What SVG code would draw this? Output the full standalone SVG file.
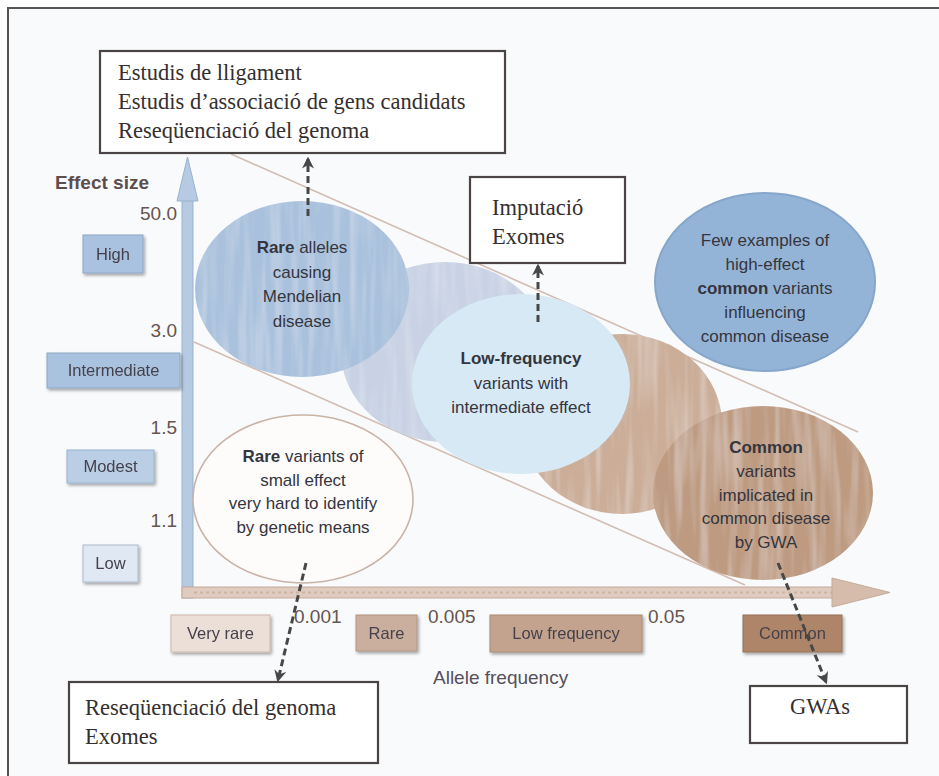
<svg xmlns="http://www.w3.org/2000/svg" width="939" height="776" viewBox="0 0 939 776">
  <defs>
    <style>
      .serif { font-family: "Liberation Serif", "DejaVu Serif", serif; font-size: 22.5px; fill: #352f2f; }
      .sans { font-family: "Liberation Sans", Arial, sans-serif; }
      .bubble { font-family: "Liberation Sans", Arial, sans-serif; font-size: 17px; fill: #35353d; text-anchor: middle; }
      .bubble .b { font-weight: bold; }
      .num { font-family: "Liberation Sans", Arial, sans-serif; font-size: 19px; fill: #66544f; }
      .tag { font-family: "Liberation Sans", Arial, sans-serif; font-size: 16.5px; fill: #45414b; text-anchor: middle; }
      .note { fill: #ffffff; stroke: #4a4444; stroke-width: 2.2; }
      .dash { fill: none; stroke: #474747; stroke-width: 3; stroke-dasharray: 7 4; marker-end: url(#head); }
      .guide { fill: none; stroke: #d3bdb2; stroke-width: 1.6; }
    </style>
    <marker id="head" viewBox="0 0 10 10" refX="8" refY="5" markerWidth="4" markerHeight="4" orient="auto" markerUnits="strokeWidth">
      <path d="M0,0 L10,5 L0,10 L3,5 z" fill="#474747"/>
    </marker>
    <filter id="shadow" x="-20%" y="-20%" width="150%" height="160%">
      <feDropShadow dx="1.5" dy="2" stdDeviation="1.5" flood-color="#000" flood-opacity="0.35"/>
    </filter>
    <filter id="grain" x="0" y="0" width="1" height="1">
      <feTurbulence type="fractalNoise" baseFrequency="0.12 0.01" numOctaves="2" seed="4" result="noise"/>
      <feColorMatrix in="noise" type="matrix" values="0 0 0 0 1  0 0 0 0 1  0 0 0 0 1  0 0 0 0.55 -0.22" result="light"/>
      <feComposite in="light" in2="SourceGraphic" operator="in" result="streaks"/>
      <feMerge>
        <feMergeNode in="SourceGraphic"/>
        <feMergeNode in="streaks"/>
      </feMerge>
    </filter>
  </defs>

  <!-- page and frame -->
  <rect x="0" y="0" width="939" height="776" fill="#ffffff"/>
  <rect x="8" y="8" width="931" height="768" fill="#f9fafc"/>
  <path d="M8,776 V8 H939" fill="none" stroke="#555555" stroke-width="2"/>

  <!-- diagonal guide lines bounding the band of variants -->
  <g id="guides">
    <line class="guide" x1="231" y1="154" x2="858" y2="432"/>
    <line class="guide" x1="194" y1="342" x2="745" y2="585"/>
  </g>

  <!-- axes -->
  <g id="axes">
    <rect x="182" y="198" width="11" height="400" fill="#b6cbe3" stroke="#9ab1cd" stroke-width="1"/>
    <polygon points="187.5,157 177,201 198,201" fill="#b6cbe3" stroke="#9ab1cd" stroke-width="1"/>
    <rect x="182" y="587" width="652" height="11" fill="#dfcbbf" stroke="#c4aa98" stroke-width="1"/>
    <line x1="194" y1="592.5" x2="832" y2="592.5" stroke="#cdb3a2" stroke-width="2" stroke-dasharray="3 3"/>
    <polygon points="832,578 890,592.5 832,607" fill="#d6bcab" stroke="#c4aa98" stroke-width="1"/>
    <text class="sans" x="55" y="189" font-size="19" font-weight="bold" fill="#5c4e4e">Effect size</text>
    <text class="sans" x="433" y="684" font-size="19" fill="#55505a">Allele frequency</text>
  </g>

  <!-- effect-size scale -->
  <g id="y-scale">
    <text class="num" x="177" y="220" text-anchor="end">50.0</text>
    <text class="num" x="177" y="337" text-anchor="end">3.0</text>
    <text class="num" x="177" y="434" text-anchor="end">1.5</text>
    <text class="num" x="177" y="527" text-anchor="end">1.1</text>
  </g>
  <g id="tag-high" filter="url(#shadow)">
    <rect x="83" y="235" width="60" height="38" fill="#a9c2df" stroke="#8ea7c4"/>
    <text class="tag" x="113" y="260">High</text>
  </g>
  <g id="tag-intermediate" filter="url(#shadow)">
    <rect x="47" y="353" width="133" height="35" fill="#a9c2df" stroke="#8ea7c4"/>
    <text class="tag" x="113.5" y="376">Intermediate</text>
  </g>
  <g id="tag-modest" filter="url(#shadow)">
    <rect x="67" y="450" width="87" height="33" fill="#bacee5" stroke="#9ab1cb"/>
    <text class="tag" x="110.5" y="472">Modest</text>
  </g>
  <g id="tag-low" filter="url(#shadow)">
    <rect x="83" y="545" width="55" height="37" fill="#dfe8f3" stroke="#a9bacd"/>
    <text class="tag" x="110.5" y="569">Low</text>
  </g>

  <!-- allele-frequency scale -->
  <g id="x-scale">
    <text class="num" x="294" y="623">0.001</text>
    <text class="num" x="428" y="623">0.005</text>
    <text class="num" x="648" y="623">0.05</text>
  </g>
  <g id="tag-very-rare" filter="url(#shadow)">
    <rect x="171" y="615" width="99" height="37" fill="#ecdfd7" stroke="#cbb7aa"/>
    <text class="tag" x="220.5" y="639">Very rare</text>
  </g>
  <g id="tag-rare" filter="url(#shadow)">
    <rect x="356" y="615" width="61" height="36" fill="#caaf9f" stroke="#b09482"/>
    <text class="tag" x="386.5" y="639">Rare</text>
  </g>
  <g id="tag-low-frequency" filter="url(#shadow)">
    <rect x="490" y="615" width="152" height="37" fill="#c3a38d" stroke="#a88a74"/>
    <text class="tag" x="566" y="639">Low frequency</text>
  </g>
  <g id="tag-common" filter="url(#shadow)">
    <rect x="743" y="615" width="99" height="37" fill="#ae8567" stroke="#94705a"/>
    <text class="tag" x="792.5" y="639">Common</text>
  </g>

  <!-- variant bubbles, back to front -->
  <g id="bubble-blend-blue">
    <ellipse cx="445" cy="352" rx="104" ry="90" fill="#c8d2e4" filter="url(#grain)"/>
  </g>
  <g id="bubble-blend-brown">
    <ellipse cx="622" cy="424" rx="100" ry="90" fill="#cbad98" filter="url(#grain)"/>
  </g>
  <g id="bubble-mendelian">
    <ellipse cx="302" cy="289" rx="107" ry="88" fill="#a9c1dd" filter="url(#grain)"/>
    <text class="bubble" y="253"><tspan x="302"><tspan class="b">Rare</tspan> alleles</tspan><tspan x="302" dy="24.5">causing</tspan><tspan x="302" dy="24.5">Mendelian</tspan><tspan x="302" dy="24.5">disease</tspan></text>
  </g>
  <g id="bubble-low-frequency">
    <ellipse cx="521" cy="384" rx="109" ry="90" fill="#d6e9f5"/>
    <text class="bubble" y="364"><tspan x="521" class="b">Low-frequency</tspan><tspan x="521" dy="25">variants with</tspan><tspan x="521" dy="24">intermediate effect</tspan></text>
  </g>
  <g id="bubble-common">
    <ellipse cx="763" cy="493" rx="110" ry="87" fill="#bd9a80" filter="url(#grain)"/>
    <text class="bubble" y="453"><tspan x="766" class="b">Common</tspan><tspan x="766" dy="24">variants</tspan><tspan x="766" dy="23.5">implicated in</tspan><tspan x="766" dy="23.5">common disease</tspan><tspan x="766" dy="24">by GWA</tspan></text>
  </g>
  <g id="bubble-high-effect-common">
    <ellipse cx="765" cy="282" rx="110" ry="89" fill="#94b4d7" stroke="#86a6cb" stroke-width="2"/>
    <text class="bubble" y="246"><tspan x="765">Few examples of</tspan><tspan x="765" dy="24">high-effect</tspan><tspan x="765" dy="23.5"><tspan class="b">common</tspan> variants</tspan><tspan x="765" dy="24">influencing</tspan><tspan x="765" dy="24">common disease</tspan></text>
  </g>
  <g id="bubble-rare-small">
    <ellipse cx="303" cy="499" rx="110" ry="84" fill="#fdfcfb" stroke="#c9b3a6" stroke-width="1.6"/>
    <text class="bubble" y="462"><tspan x="303"><tspan class="b">Rare</tspan> variants of</tspan><tspan x="303" dy="23.5">small effect</tspan><tspan x="303" dy="23.5">very hard to identify</tspan><tspan x="303" dy="23.5">by genetic means</tspan></text>
  </g>

  <!-- method notes -->
  <g id="note-linkage">
    <rect class="note" x="100" y="51" width="405" height="102"/>
    <text class="serif" x="118" y="80">Estudis de lligament</text>
    <text class="serif" x="118" y="109">Estudis d’associació de gens candidats</text>
    <text class="serif" x="118" y="138">Reseqüenciació del genoma</text>
  </g>
  <g id="note-imputation">
    <rect class="note" x="470" y="177" width="155" height="86"/>
    <text class="serif" x="492" y="215">Imputació</text>
    <text class="serif" x="492" y="244">Exomes</text>
  </g>
  <g id="note-resequencing">
    <rect class="note" x="69" y="682" width="309" height="81"/>
    <text class="serif" x="85" y="715">Reseqüenciació del genoma</text>
    <text class="serif" x="85" y="744">Exomes</text>
  </g>
  <g id="note-gwas">
    <rect class="note" x="750" y="686" width="157" height="57"/>
    <text class="serif" x="820" y="714" text-anchor="middle">GWAs</text>
  </g>

  <!-- connectors from bubbles to the methods that detect them -->
  <g id="connectors">
    <line class="dash" x1="308" y1="216" x2="308" y2="159"/>
    <line class="dash" x1="538" y1="322" x2="538" y2="266"/>
    <line class="dash" x1="306" y1="563" x2="278" y2="680"/>
    <line class="dash" x1="778" y1="563" x2="826" y2="682"/>
  </g>
</svg>
